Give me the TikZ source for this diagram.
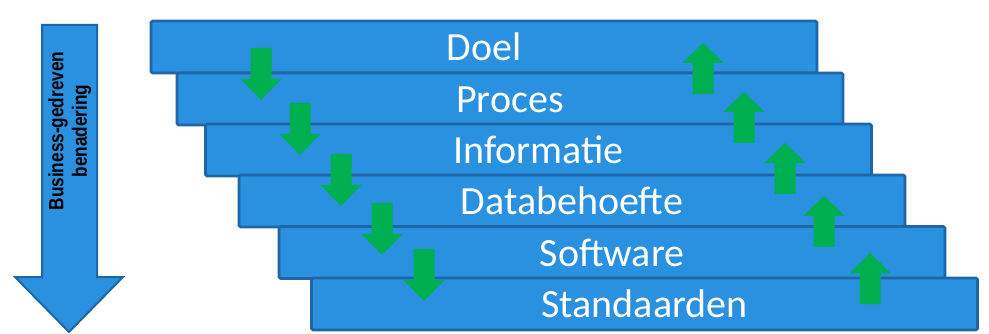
\documentclass[tikz,border=0pt]{standalone}
\usepackage{fontspec}
\setmainfont{Carlito}
\newfontfamily\arialfont{Liberation Sans}
\definecolor{barblue}{HTML}{2A90E0}
\definecolor{bordblue}{HTML}{1F66A6}
\definecolor{arrgreen}{HTML}{00B050}
\begin{document}
\begin{tikzpicture}[x=1pt,y=-1pt,
  bar/.style={draw=bordblue,fill=barblue,line width=2.6pt,rounded corners=1.5pt,
    minimum width=666pt,minimum height=52pt,inner sep=0pt,outer sep=0pt},
  bartext/.style={anchor=base,text=white,font=\fontsize{40}{41}\selectfont,inner sep=0pt},
  greenarr/.style={fill=arrgreen},
  bigarrow/.style={draw=bordblue,fill=barblue,line width=2pt,line join=miter}]
\useasboundingbox (0,0) rectangle (989,334);
% left arrow
\draw[bigarrow] (42,25) -- (97,25) -- (97,277) -- (123,277) -- (69,332) -- (15,277) -- (42,277) -- cycle;
\node[rotate=90,inner sep=0pt] (lefttext) at (70.5,131)
  {\scalebox{1}[1.2]{\arialfont\bfseries\fontsize{17.2}{19.5}\selectfont\begin{tabular}{@{}c@{}}Business-gedreven\\benadering\end{tabular}}};
% bars
\node[bar] (b1) at (484,47) {};
\node[bar] (b2) at (510,99) {};
\node[bar] (b3) at (538.5,150) {};
\node[bar] (b4) at (572,201) {};
\node[bar] (b5) at (612,252.5) {};
\node[bar] (b6) at (644.5,304) {};
\node[bartext] (t1) at ([yshift=-13.5pt]b1.center) {Doel};
\node[bartext] (t2) at ([yshift=-13.5pt]b2.center) {Proces};
\node[bartext] (t3) at ([yshift=-13.5pt]b3.center) {Informatie};
\node[bartext] (t4) at ([yshift=-13.5pt]b4.center) {Databehoefte};
\node[bartext] (t5) at ([yshift=-13.5pt]b5.center) {Software};
\node[bartext] (t6) at ([yshift=-13.5pt]b6.center) {Standaarden};
% down arrows (cx, top)
\foreach \cx/\ty in {261/48,300/103,341/154,382/203,424/249}{
  \fill[greenarr] (\cx-10.5,\ty) -- (\cx+10.5,\ty) -- (\cx+10.5,\ty+31) -- (\cx+20.5,\ty+31)
    -- (\cx,\ty+52) -- (\cx-20.5,\ty+31) -- (\cx-10.5,\ty+31) -- cycle;
}
% up arrows (cx, tip)
\foreach \cx/\ty in {703/43,744/92,785/143,824/196,870/253}{
  \fill[greenarr] (\cx,\ty) -- (\cx+20.5,\ty+20) -- (\cx+10.5,\ty+20) -- (\cx+10.5,\ty+51)
    -- (\cx-10.5,\ty+51) -- (\cx-10.5,\ty+20) -- (\cx-20.5,\ty+20) -- cycle;
}
\end{tikzpicture}
\end{document}
